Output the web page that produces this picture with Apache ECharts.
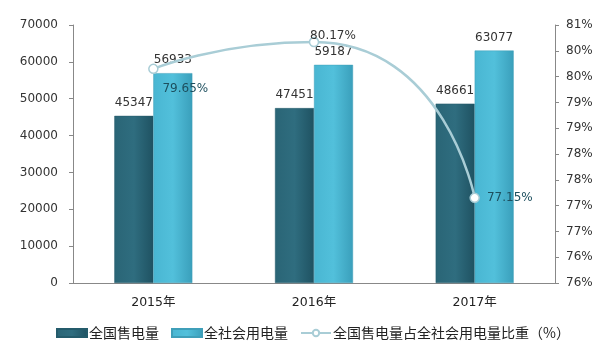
<!DOCTYPE html>
<html><head><meta charset="utf-8">
<script src="https://cdn.jsdelivr.net/npm/echarts@6/dist/echarts.min.js"></script>
<style>html,body{margin:0;padding:0;background:#fff}#c{width:608px;height:347px}</style>
</head><body><div id="c"></div>
<script>
const categories = ['2015年', '2016年', '2017年'];
const salesVolume = [45347, 47451, 48661];
const totalConsumption = [56933, 59187, 63077];
const shareRatio = [79.65, 80.17, 77.15];
const seriesNames = ['全国售电量', '全社会用电量', '全国售电量占全社会用电量比重（%）'];

const chart = echarts.init(document.getElementById('c'));
const font = '"DejaVu Sans", "Noto Sans CJK SC", sans-serif';
const cjk = '"Noto Sans CJK SC", "DejaVu Sans", sans-serif';
chart.setOption({
  animation: false,
  textStyle: { fontFamily: font },
  grid: { left: 73, right: 53, top: 25, bottom: 64 },
  legend: {
    top: 321, left: 51, itemGap: 12, itemWidth: 30, itemHeight: 8,
    textStyle: { fontSize: 14, color: '#222', fontFamily: cjk, padding: [0, 0, 0, -3] },
    data: [
      { name: seriesNames[0], icon: 'rect' },
      { name: seriesNames[1], icon: 'rect' },
      { name: seriesNames[2] }
    ]
  },
  xAxis: {
    type: 'category', data: categories,
    axisLine: { lineStyle: { color: '#888' } },
    axisTick: { show: false },
    axisLabel: { color: '#222', fontSize: 12.5, margin: 13 }
  },
  yAxis: [
    {
      type: 'value', min: 0, max: 70000, interval: 10000,
      splitLine: { show: false },
      axisLine: { show: true, lineStyle: { color: '#888' } },
      axisTick: { show: true, length: 4 },
      axisLabel: { color: '#333', fontSize: 12, margin: 15, formatter: v => String(v) }
    },
    {
      type: 'value', min: 75.5, max: 80.5, interval: 0.5,
      splitLine: { show: false },
      axisLine: { show: true, lineStyle: { color: '#888' } },
      axisTick: { show: true, length: 4 },
      axisLabel: { color: '#333', fontSize: 12, margin: 11,
        formatter: v => Math.round(v + 1e-9) + '%' }
    }
  ],
  series: [
    {
      name: seriesNames[0], type: 'bar', data: salesVolume, barWidth: 39, barGap: '0%',
      itemStyle: { color: new echarts.graphic.LinearGradient(0, 0, 1, 0, [
        { offset: 0, color: '#2a6576' }, { offset: 0.5, color: '#2f6d7f' }, { offset: 1, color: '#1f5262' }]),
        borderColor: '#245b6b', borderWidth: 0.5 },
      label: { show: true, position: 'top', color: '#333', fontSize: 12, distance: 7 }
    },
    {
      name: seriesNames[1], type: 'bar', data: totalConsumption, barWidth: 39,
      itemStyle: { color: new echarts.graphic.LinearGradient(0, 0, 1, 0, [
        { offset: 0, color: '#49b6d2' }, { offset: 0.5, color: '#52c0db' }, { offset: 1, color: '#3a9fbb' }]),
        borderColor: '#3f9fb9', borderWidth: 0.5 },
      label: { show: true, position: 'top', color: '#333', fontSize: 12, distance: 7 }
    },
    {
      name: seriesNames[2], type: 'line', yAxisIndex: 1, smooth: 0.7,
      symbol: 'circle', symbolSize: 9,
      lineStyle: { color: '#a9cdd6', width: 2.5 },
      itemStyle: { color: '#fff', borderColor: '#a9cdd6', borderWidth: 1.5 },
      label: { show: true, formatter: p => p.value.toFixed(2) + '%', fontSize: 12 },
      data: [
        { value: shareRatio[0], label: { position: 'bottom', offset: [32, 4], color: '#1d4f5e' } },
        { value: shareRatio[1], label: { position: 'top', offset: [19, 10], color: '#333' } },
        { value: shareRatio[2], label: { position: 'right', offset: [2, 0], color: '#1d4f5e' } }
      ]
    }
  ]
});
</script></body></html>
